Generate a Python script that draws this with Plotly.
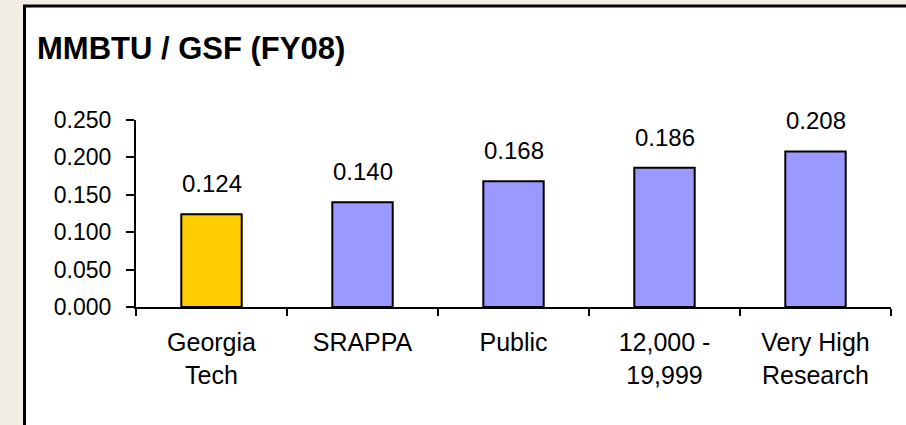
import plotly.graph_objects as go

categories = ["Georgia<br>Tech", "SRAPPA", "Public", "12,000 -<br>19,999", "Very High<br>Research"]
values = [0.124, 0.140, 0.168, 0.186, 0.208]
bar_colors = ["#FFCC00", "#9999FF", "#9999FF", "#9999FF", "#9999FF"]
y_ticks = [0.0, 0.05, 0.10, 0.15, 0.20, 0.25]
title_text = "MMBTU / GSF (FY08)"

FONT = "Liberation Sans, Arial, sans-serif"
W, H = 906, 425
L, R, T, B = 136, 15, 120, 118

fig = go.Figure()
fig.add_trace(go.Bar(
    x=categories, y=values,
    marker=dict(color=bar_colors, line=dict(color="black", width=2)),
    width=0.4,
    hoverinfo="skip",
))

for c, v in zip(categories, values):
    fig.add_annotation(x=c, y=v, text=f"{v:.3f}", showarrow=False,
                       yanchor="bottom", yshift=15,
                       font=dict(family=FONT, size=24, color="black"))

pw = W - L - R
ph = H - T - B
def px_x(p):
    return (p - L) / pw
def px_y(p):
    return (H - B - p) / ph

fig.add_shape(type="rect", xref="paper", yref="paper",
              x0=px_x(24.5), x1=px_x(915), y0=px_y(6), y1=px_y(440),
              line=dict(color="black", width=3), fillcolor="white", layer="below")

fig.update_layout(
    width=W, height=H,
    margin=dict(l=L, r=R, t=T, b=B),
    paper_bgcolor="#F2EEE3",
    plot_bgcolor="rgba(0,0,0,0)",
    showlegend=False,
    bargap=0.6,
    title=dict(text=f"<b>{title_text}</b>", xref="container", yref="container",
               x=37 / W, xanchor="left", y=1 - 48 / H, yanchor="middle",
               font=dict(family=FONT, size=31, color="black")),
    xaxis=dict(showline=True, linecolor="black", linewidth=2,
               ticks="outside", tickson="boundaries", ticklen=7, tickwidth=2,
               tickcolor="black", showgrid=False,
               tickfont=dict(family=FONT, size=25, color="black"),
               ticklabelstandoff=12, fixedrange=True),
    yaxis=dict(range=[0, 0.25], tickvals=y_ticks, tickformat=".3f",
               showline=True, linecolor="black", linewidth=2,
               ticks="outside", ticklen=8, tickwidth=2, tickcolor="black",
               showgrid=False, zeroline=False,
               tickfont=dict(family=FONT, size=23, color="black"),
               ticklabelstandoff=10, fixedrange=True),
)

fig.write_html("out.html", config={"displayModeBar": False},
               post_script="document.body.style.margin='0';document.body.style.overflow='hidden';")
